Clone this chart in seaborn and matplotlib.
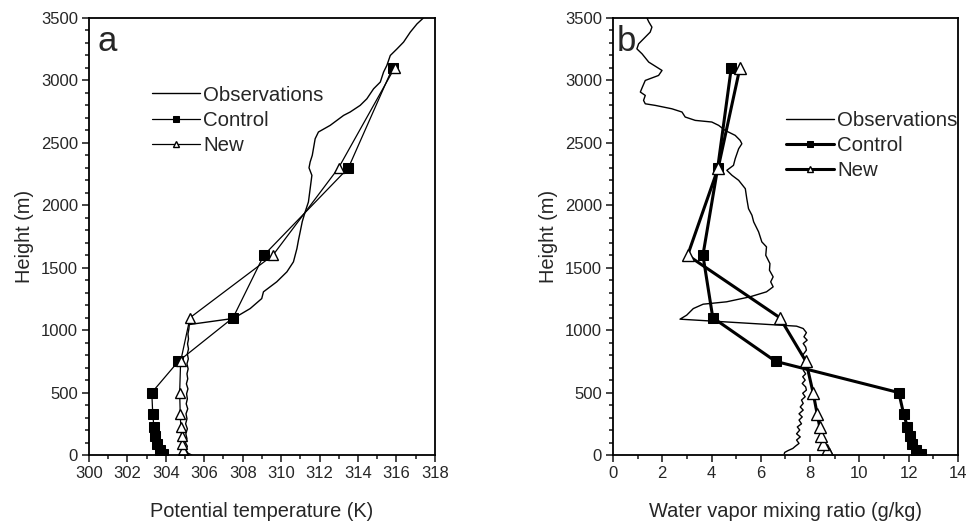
import matplotlib
matplotlib.use("Agg")
import matplotlib.pyplot as plt
import seaborn as sns
from matplotlib.ticker import MultipleLocator

sns.set_style("ticks")
plt.rcParams['font.family'] = ['Liberation Sans', 'DejaVu Sans']

# model levels (m), shared by both runs
levels = [10, 40, 90, 150, 225, 325, 500, 750, 1100, 1600, 2300, 3100]

# panel a: potential temperature (K)
control_theta = [303.85, 303.7, 303.55, 303.45, 303.38, 303.32, 303.27, 304.65, 307.5, 309.1, 313.5, 315.8]
new_theta = [304.95, 304.9, 304.85, 304.82, 304.78, 304.75, 304.72, 304.77, 305.26, 309.57, 312.99, 315.9]

obs_theta_h = [0, 15, 40, 70, 100, 130, 170, 210, 250, 290, 330, 370, 410, 450, 490, 530, 570,
               610, 650, 690, 730, 770, 810, 850, 890, 930, 970, 1010, 1045, 1094, 1173, 1253,
               1307, 1387, 1467, 1547, 1653, 1720, 1787, 1870, 1947, 2027, 2133, 2240, 2300, 2347,
               2400, 2453, 2533, 2587, 2640, 2720, 2747, 2800, 2853, 2933, 2987, 3067, 3120, 3200,
               3253, 3307, 3387, 3453, 3500]
obs_theta = [305.35, 305.15, 305.05, 305.12, 305.02, 305.1, 305.04, 305.12, 305.03, 305.1, 305.05,
             305.14, 305.06, 305.12, 305.08, 305.15, 305.07, 305.14, 305.1, 305.16, 305.1, 305.17,
             305.12, 305.18, 305.13, 305.18, 305.15, 305.2, 305.22, 307.52, 308.39, 308.99,
             309.08, 309.77, 310.3, 310.64, 310.82, 310.9, 310.99, 311.1, 311.25, 311.42, 311.51,
             311.6, 311.45, 311.51, 311.62, 311.68, 311.77, 311.94, 312.55, 313.25, 313.59,
             314.11, 314.46, 314.81, 315.16, 315.33, 315.5, 315.68, 316.03, 316.37, 316.72,
             317.07, 317.4]

# panel b: water vapor mixing ratio (g/kg)
control_q = [12.5, 12.3, 12.15, 12.05, 11.95, 11.8, 11.6, 6.6, 4.05, 3.65, 4.25, 4.8]
new_q = [8.75, 8.67, 8.53, 8.46, 8.39, 8.29, 8.12, 7.83, 6.77, 3.03, 4.27, 5.15]

obs_q_h = [10, 21, 35, 53, 70, 93, 120, 145, 170, 200, 225, 250, 280, 305, 330, 360, 385, 413,
           440, 467, 495, 520, 545, 573, 600, 627, 650, 680, 707, 735, 760, 800, 840, 865, 893,
           920, 947, 980, 1013, 1032, 1088, 1120, 1173, 1208, 1227, 1267, 1307, 1347, 1387,
           1427, 1480, 1533, 1600, 1667, 1707, 1787, 1867, 1920, 1973, 2053, 2133, 2200, 2240,
           2280, 2320, 2373, 2453, 2493, 2520, 2560, 2600, 2640, 2667, 2680, 2707, 2747, 2773,
           2800, 2813, 2840, 2880, 2907, 2950, 3000, 3040, 3080, 3147, 3213, 3253, 3293, 3347,
           3387, 3427, 3470, 3500]
obs_q = [6.95, 6.97, 7.1, 7.3, 7.4, 7.55, 7.45, 7.6, 7.45, 7.58, 7.48, 7.65, 7.55, 7.68, 7.55,
         7.72, 7.6, 7.72, 7.65, 7.8, 7.7, 7.85, 7.82, 7.68, 7.8, 7.7, 7.82, 7.72, 7.85, 7.7, 7.8,
         7.7, 7.85, 7.82, 7.72, 7.88, 7.75, 7.85, 7.72, 7.45, 2.72, 2.99, 3.26, 3.66, 4.61, 5.56,
         6.23, 6.5, 6.4, 6.5, 6.35, 6.37, 6.2, 6.23, 6.04, 5.91, 5.71, 5.64, 5.5, 5.43, 5.37, 5.1,
         4.83, 4.62, 4.89, 4.96, 5.1, 5.23, 5.16, 4.96, 4.55, 4.29, 4.01, 3.34, 2.93, 2.8, 2.39,
         1.72, 1.31, 1.24, 1.31, 1.11, 1.2, 1.31, 1.85, 1.99, 1.45, 1.18, 0.97, 1.04, 1.31, 1.51,
         1.58, 1.45, 1.38]

fig = plt.figure(figsize=(9.69, 5.25), dpi=100)
ax_a = fig.add_axes([0.0918, 0.1333, 0.357, 0.8324])
ax_b = fig.add_axes([0.6326, 0.1333, 0.356, 0.8324])


def draw_panel(ax, obs_x, obs_h, ctl_x, new_x, lw, ms):
    sns.lineplot(x=obs_x, y=obs_h, sort=False, estimator=None, color="black",
                 lw=1.0, ax=ax, label="Observations")
    sns.lineplot(x=ctl_x, y=levels, sort=False, estimator=None, color="black", lw=lw,
                 marker="s", markersize=ms, markerfacecolor="black", markeredgecolor="black",
                 ax=ax, label="Control")
    sns.lineplot(x=new_x, y=levels, sort=False, estimator=None, color="black", lw=lw,
                 marker="^", markersize=ms + 1, markerfacecolor="white", markeredgecolor="black",
                 markeredgewidth=1.0, ax=ax, label="New")
    ax.set_ylim(0, 3500)
    ax.yaxis.set_major_locator(MultipleLocator(500))
    ax.yaxis.set_minor_locator(MultipleLocator(100))
    ax.xaxis.set_minor_locator(MultipleLocator(1))
    ax.tick_params(which="both", direction="out", width=1.2, top=False, right=False, pad=3)
    ax.tick_params(which="major", length=5)
    ax.tick_params(which="minor", length=3)
    ax.tick_params(axis="y", labelsize=12)
    ax.tick_params(axis="x", labelsize=12)
    for s in ax.spines.values():
        s.set_visible(True)
        s.set_linewidth(1.3)
        s.set_color("black")
    ax.set_ylabel("Height (m)", fontsize=14.4, labelpad=5)


draw_panel(ax_a, obs_theta, obs_theta_h, control_theta, new_theta, 0.9, 6.5)
ax_a.set_xlim(300, 318)
ax_a.xaxis.set_major_locator(MultipleLocator(2))
ax_a.set_xlabel("Potential temperature (K)", fontsize=14.4, labelpad=15)
ax_a.text(0.025, 0.985, "a", transform=ax_a.transAxes, fontsize=25, va="top", ha="left")
ax_a.legend(loc="center left", bbox_to_anchor=(0.153, 0.766), frameon=False, fontsize=14.7,
            handlelength=2.35, handletextpad=0.15, labelspacing=0.3, borderpad=0,
            markerscale=0.6)

draw_panel(ax_b, obs_q, obs_q_h, control_q, new_q, 2.2, 7)
ax_b.set_xlim(0, 14)
ax_b.xaxis.set_major_locator(MultipleLocator(2))
ax_b.set_xlabel("Water vapor mixing ratio (g/kg)", fontsize=14.4, labelpad=15)
ax_b.text(0.01, 0.985, "b", transform=ax_b.transAxes, fontsize=25, va="top", ha="left")
ax_b.legend(loc="center left", bbox_to_anchor=(0.472, 0.708), frameon=False, fontsize=14.7,
            handlelength=2.35, handletextpad=0.15, labelspacing=0.3, borderpad=0,
            markerscale=0.6)

fig.savefig("out.png", dpi=100)
